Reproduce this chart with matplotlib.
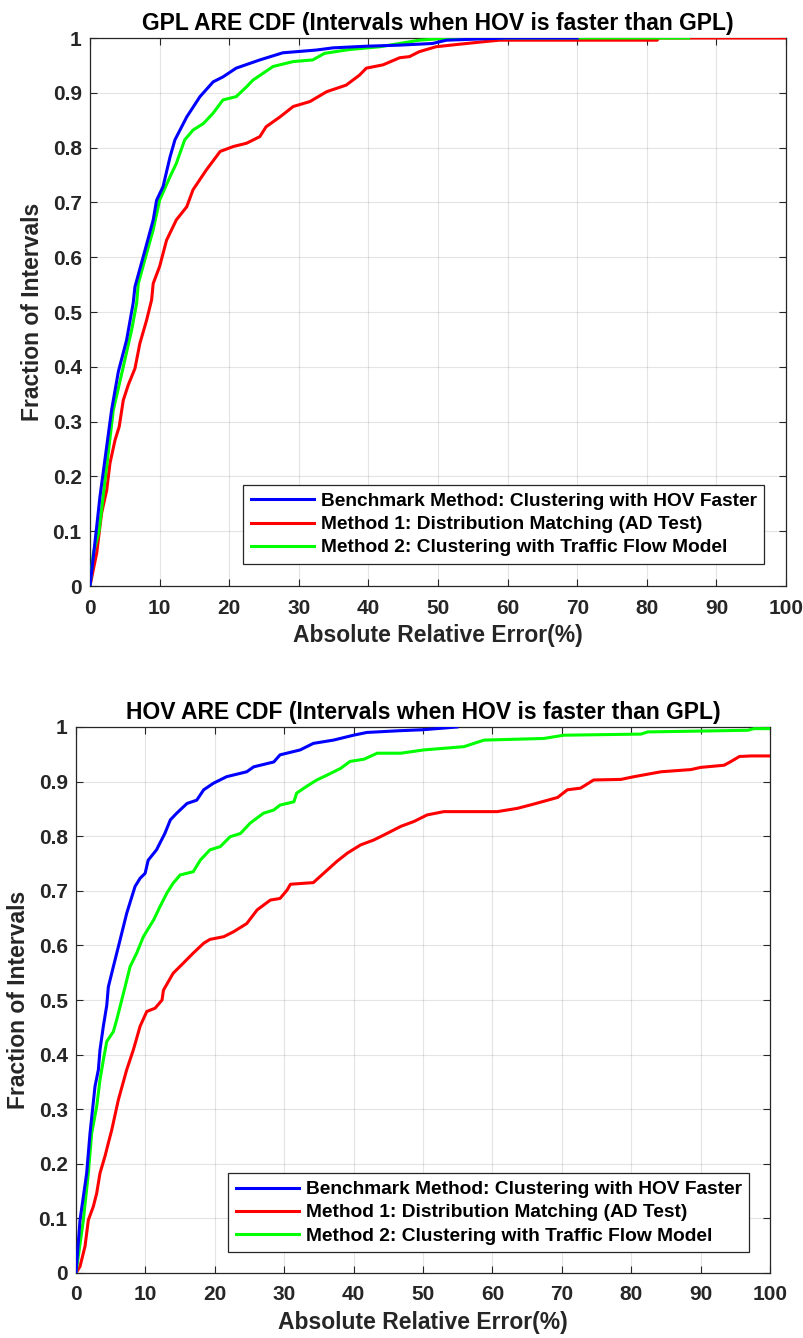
import matplotlib
matplotlib.use("Agg")
import matplotlib.pyplot as plt
import numpy as np

plt.rcParams['font.family'] = ['Liberation Sans', 'DejaVu Sans']
plt.rcParams['font.weight'] = 'bold'

# ---------------- Data ----------------
# Top chart: GPL ARE CDF
gpl_blue_x = [0, 0.96, 1.43, 3.1, 4.07, 5.26, 6.2, 6.46, 7.65, 9.08, 9.57, 10.5, 11.5, 12.2, 13.9, 15.8,
              17.7, 19.1, 21.0, 24.4, 27.7, 32.5, 34.9, 39.7, 44.5, 49.2, 51.2, 59.8, 70.0]
gpl_blue_y = [0, 0.108, 0.163, 0.321, 0.391, 0.449, 0.516, 0.546, 0.601, 0.668, 0.704, 0.729, 0.783, 0.814,
              0.856, 0.893, 0.920, 0.929, 0.945, 0.960, 0.973, 0.978, 0.982, 0.985, 0.987, 0.990, 0.996,
              1.0, 1.0]
gpl_red_x = [0, 0.96, 1.67, 2.4, 2.87, 3.59, 4.2, 4.78, 5.5, 6.46, 7.17, 8.13, 8.85, 9.08, 10.0, 11.0, 12.4,
             13.9, 14.8, 16.7, 18.7, 20.6, 22.5, 24.4, 25.3, 27.3, 29.2, 31.6, 34.0, 36.8, 38.7, 39.7,
             42.1, 44.5, 45.9, 47.3, 49.7, 52.6, 56.4, 58.8, 81.5, 81.6, 105]
gpl_red_y = [0, 0.06, 0.133, 0.175, 0.224, 0.266, 0.291, 0.339, 0.367, 0.397, 0.443, 0.485, 0.522, 0.552,
             0.583, 0.631, 0.668, 0.692, 0.723, 0.759, 0.793, 0.802, 0.808, 0.820, 0.838, 0.856, 0.875,
             0.884, 0.902, 0.914, 0.932, 0.945, 0.951, 0.964, 0.966, 0.975, 0.984, 0.988, 0.993, 0.996,
             0.996, 1.0, 1.0]
gpl_green_x = [0, 0.48, 1.3, 3.35, 4.78, 5.98, 6.7, 6.94, 8.13, 9.08, 10.0, 11.5, 12.4, 13.6, 14.8, 16.3,
               17.7, 19.1, 21.0, 22.5, 23.4, 26.3, 29.2, 32.0, 33.7, 37.3, 41.6, 44.5, 47.3, 51.7, 86.0]
gpl_green_y = [0, 0.06, 0.10, 0.321, 0.400, 0.467, 0.516, 0.552, 0.607, 0.650, 0.704, 0.747, 0.771, 0.814,
               0.832, 0.844, 0.863, 0.887, 0.893, 0.911, 0.923, 0.948, 0.957, 0.960, 0.972, 0.979, 0.984,
               0.990, 0.996, 1.0, 1.0]

# Bottom chart: HOV ARE CDF
hov_blue_x = [0, 0.58, 1.54, 2.02, 2.74, 3.22, 3.46, 3.94, 4.43, 4.66, 5.38, 6.35, 7.31, 8.51, 9.24, 9.96,
              10.4, 11.6, 12.8, 13.6, 14.5, 16.0, 17.4, 18.4, 19.8, 21.7, 24.6, 25.6, 28.5, 29.4, 32.3,
              34.2, 37.1, 40.0, 41.9, 46.3, 50.0, 54.9]
hov_blue_y = [0, 0.097, 0.183, 0.256, 0.342, 0.372, 0.409, 0.452, 0.490, 0.524, 0.561, 0.610, 0.659, 0.708,
              0.723, 0.732, 0.756, 0.775, 0.805, 0.830, 0.842, 0.860, 0.866, 0.885, 0.897, 0.909, 0.918,
              0.927, 0.936, 0.949, 0.958, 0.970, 0.976, 0.985, 0.990, 0.993, 0.995, 1.0]
hov_red_x = [0, 0.58, 1.3, 1.78, 2.5, 2.98, 3.46, 4.18, 4.66, 5.15, 6.1, 7.3, 8.27, 9.24, 10.2, 11.4, 12.4,
             12.6, 14.0, 15.5, 16.9, 18.4, 19.3, 21.3, 22.7, 24.6, 26.1, 28.0, 29.4, 30.4, 30.9, 34.2,
             36.2, 37.6, 39.1, 41.0, 42.9, 44.8, 46.8, 48.7, 50.6, 53.0, 60.7, 63.6, 66.0, 69.4, 70.8,
             72.7, 74.6, 78.5, 80.4, 84.3, 88.6, 90.0, 93.4, 94.4, 95.6, 97.3, 105]
hov_red_y = [0, 0.012, 0.049, 0.097, 0.122, 0.146, 0.183, 0.214, 0.238, 0.262, 0.317, 0.372, 0.409, 0.452,
             0.479, 0.485, 0.500, 0.518, 0.549, 0.568, 0.586, 0.604, 0.611, 0.616, 0.625, 0.640, 0.665,
             0.683, 0.686, 0.701, 0.712, 0.715, 0.738, 0.754, 0.769, 0.784, 0.793, 0.805, 0.818, 0.827,
             0.839, 0.845, 0.845, 0.851, 0.859, 0.871, 0.885, 0.888, 0.903, 0.904, 0.909, 0.918, 0.922,
             0.926, 0.930, 0.937, 0.946, 0.947, 0.947]
hov_green_x = [0, 1.06, 1.78, 2.26, 2.98, 3.46, 3.94, 4.43, 5.38, 5.87, 6.59, 7.07, 7.79, 8.75, 9.71, 11.2,
               12.1, 13.1, 14.0, 15.0, 16.9, 17.9, 19.3, 20.8, 22.2, 23.7, 25.1, 27.0, 28.5, 29.4, 31.4,
               31.8, 33.2, 34.7, 36.2, 38.1, 39.5, 41.5, 43.4, 46.8, 50.1, 55.9, 58.8, 67.4, 70.3, 81.4,
               82.4, 96.8, 97.7, 105]
hov_green_y = [0, 0.097, 0.183, 0.256, 0.305, 0.354, 0.390, 0.424, 0.442, 0.464, 0.500, 0.524, 0.561, 0.586,
               0.616, 0.647, 0.671, 0.696, 0.714, 0.729, 0.735, 0.756, 0.775, 0.781, 0.799, 0.805, 0.824,
               0.842, 0.848, 0.857, 0.863, 0.879, 0.891, 0.903, 0.912, 0.924, 0.937, 0.941, 0.952, 0.952,
               0.958, 0.964, 0.976, 0.979, 0.985, 0.987, 0.991, 0.994, 0.997, 0.997]

legend_labels = ['Benchmark Method: Clustering with HOV Faster',
                 'Method 1: Distribution Matching (AD Test)',
                 'Method 2: Clustering with Traffic Flow Model']
titles = ['GPL ARE CDF (Intervals when HOV is faster than GPL)',
          'HOV ARE CDF (Intervals when HOV is faster than GPL)']
xlabel = 'Absolute Relative Error(%)'
ylabel = 'Fraction of Intervals'
xticks = [0, 10, 20, 30, 40, 50, 60, 70, 80, 90, 100]
yticks = [0, 0.1, 0.2, 0.3, 0.4, 0.5, 0.6, 0.7, 0.8, 0.9, 1]
ytick_labels = ['0', '0.1', '0.2', '0.3', '0.4', '0.5', '0.6', '0.7', '0.8', '0.9', '1']

# ---------------- Plot ----------------
fig = plt.figure(figsize=(8.04, 13.38), dpi=100)
W, H = 804, 1338
ax1 = fig.add_axes([90 / W, 1 - 586 / H, 696 / W, 548 / H])
ax2 = fig.add_axes([76 / W, 1 - 1273 / H, 694 / W, 546 / H])

axcol = '#262626'
blue, red, green = '#0000ff', '#ff0000', '#00ff00'
lw = 2.2


def draw(ax, xs, ys, title, anchor):
    handles = []
    zorders = [5, 3, 4]
    for x, y, c, z in zip(xs, ys, [blue, red, green], zorders):
        h, = ax.plot(x, y, color=c, lw=lw, zorder=z)
        handles.append(h)
    ax.set_xlim(0, 100)
    ax.set_ylim(0, 1)
    ax.set_xticks(xticks)
    ax.set_yticks(yticks)
    ax.set_yticklabels(ytick_labels)
    ax.tick_params(direction='in', top=True, right=True, length=5, width=0.8,
                   labelsize=15, colors=axcol)
    ax.tick_params(axis='x', pad=9)
    ax.tick_params(axis='y', pad=6)
    for lab in ax.get_xticklabels() + ax.get_yticklabels():
        lab.set_fontweight('bold')
    for sp in ax.spines.values():
        sp.set_color(axcol)
        sp.set_linewidth(0.9)
    ax.grid(True, color='#262626', alpha=0.12, linewidth=0.8)
    ax.set_axisbelow(True)
    ax.set_title(title, fontsize=16.5, fontweight='bold', color='black', pad=6)
    ax.set_xlabel(xlabel, fontsize=16.5, fontweight='bold', color=axcol, labelpad=5)
    ax.set_ylabel(ylabel, fontsize=16.5, fontweight='bold', color=axcol, labelpad=6)
    leg = ax.legend(handles, legend_labels, loc='lower left', bbox_to_anchor=anchor, fontsize=13.8,
                    frameon=True, fancybox=False, framealpha=1, edgecolor=axcol,
                    handlelength=3.3, handletextpad=0.35, borderpad=0.4,
                    labelspacing=0.3, borderaxespad=0)
    leg.get_frame().set_linewidth(0.9)
    leg.set_zorder(10)
    for t in leg.get_texts():
        t.set_fontweight('bold')
        t.set_color('black')


draw(ax1, [gpl_blue_x, gpl_red_x, gpl_green_x], [gpl_blue_y, gpl_red_y, gpl_green_y],
     titles[0], (0.22, 0.04))
draw(ax2, [hov_blue_x, hov_red_x, hov_green_x], [hov_blue_y, hov_red_y, hov_green_y],
     titles[1], (0.219, 0.038))

fig.savefig('out.png', dpi=100)
